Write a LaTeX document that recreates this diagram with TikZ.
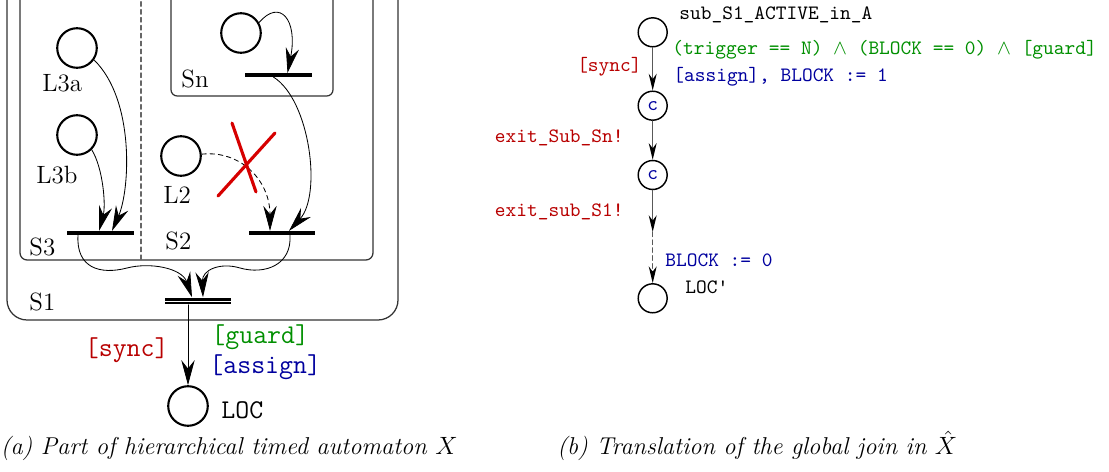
\documentclass[tikz,border=0pt]{standalone}
\usetikzlibrary{arrows.meta,calc}
\definecolor{syncred}{rgb}{0.72,0,0}
\definecolor{guardgreen}{rgb}{0,0.56,0}
\definecolor{assignblue}{rgb}{0,0,0.62}
\definecolor{crossred}{rgb}{0.84,0,0}
\begin{document}
\begin{tikzpicture}[x=0.48pt, y=-0.48pt, line join=round, line cap=round,
    >={Stealth[length=12pt,width=6.4pt,inset=4pt]},
    loc/.style={circle, draw, line width=1pt, minimum size=19pt, inner sep=0pt},
    bar/.style={rectangle, fill=black, minimum width=32pt, minimum height=1.6pt, inner sep=0pt},
    joinbar/.style={rectangle, fill=black, minimum width=32pt, minimum height=3.2pt, inner sep=0pt},
    lbl/.style={anchor=west, inner sep=0pt, font=\fontsize{12}{14}\selectfont},
    ttl/.style={inner sep=0pt, font=\fontsize{13}{15}\selectfont\ttfamily},
    box/.style={draw=black!80, line width=0.6pt},
    sloc/.style={circle, draw, line width=0.7pt, minimum size=13.9pt, inner sep=0pt, text=assignblue, font=\fontsize{9.8}{11}\selectfont\ttfamily},
    stt/.style={inner sep=0pt, font=\fontsize{9.8}{11}\selectfont\ttfamily},
    sarr/.style={draw=black!65, line width=0.6pt, -{Stealth[length=8pt,width=3.8pt,inset=2.5pt,black]}},
    captext/.style={inner sep=0pt, font=\fontsize{11.7}{13}\selectfont\itshape}]
  \useasboundingbox (0,0) rectangle (1109,472);

  % (a) super-states
  \draw[box, rounded corners=9.6pt] (7,-30) -- (7,320) -- (398,320) -- (398,-30);
  \draw[box, rounded corners=3.4pt] (20,-30) -- (20,260) -- (373,260) -- (373,-30);
  \draw[box, rounded corners=3pt] (171,-30) -- (171,96) -- (333,96) -- (333,-30);
  \draw[black!60, line width=0.6pt, dash pattern=on 2.2pt off 1.6pt] (141,-30) -- (141,260);

  % locations and labels
  \foreach \n/\x/\y in {l3a/77/48, l3b/77/135, snloc/241/33, l2/181/156, loc/188/406}{
    \node[loc] (\n) at (\x,\y) {};
  }
  \foreach \t/\x/\y in {L3a/42/83, L3b/36/175, L2/163/195, Sn/181/79, S3/29/247, S2/165/241, S1/29/302}{
    \node[lbl] (lab\t) at (\x,\y) {\t};
  }

  % exit bars
  \node[bar] (bs3) at (100.5,233) {};
  \node[bar] (bs2) at (282,233) {};
  \node[bar] (bsn) at (278.5,75) {};
  \node[joinbar] (join) at (198,301) {};
  \draw[white, line width=0.45pt, line cap=butt] (join.west) -- (join.east);

  \draw[->] (l3a.-35) .. controls (135,100) and (130,190) .. ($(bs3.north)+(11.5,0)$);
  \draw[->] (l3b.-45) .. controls (103,168) and (106,205) .. ($(bs3.north)+(-1.5,0)$);
  \draw[->] (snloc.30) .. controls (280,-2) and (298,20) .. ($(bsn.north)+(9,0)$);
  \draw[->] ($(bsn.south)+(-5,0)$) .. controls (310,100) and (322,195) .. ($(bs2.north)+(7,0)$);
  \draw[->, dash pattern=on 2.2pt off 1.8pt] (l2.5) .. controls (240,150) and (270,180) .. ($(bs2.north)+(-12,0)$);
  \draw[crossred, line width=1.5pt] (232,123) -- (256,192) (275,133) -- (218,196);

  \draw[->] ($(bs3.south)+(-22.5,0)$) .. controls (76,268) and (100,275) .. (127,268)
    .. controls (150,262) and (182,268) .. ($(join.north)+(-6,0)$);
  \draw[->] ($(bs2.south)+(8,0)$) .. controls (292,265) and (265,275) .. (240,268)
    .. controls (220,262) and (202,270) .. ($(join.north)+(5,0)$);
  \draw[->] (loc |- join.south) -- (loc);

  \node[ttl, text=syncred, anchor=east] (sync) at (169,350) {[sync]};
  \node[ttl, text=guardgreen, anchor=west] (guard) at (211,337) {[guard]};
  \node[ttl, text=assignblue, anchor=west] (assign) at (209,367) {[assign]};
  \node[ttl, anchor=west] (loclbl) at (221,410) {LOC};

  % (b) translation
  \node[sloc] (act) at (652.7,32.3) {};
  \node[sloc] (c1) at (652.7,105.7) {c};
  \node[sloc] (c2) at (652.7,175) {c};
  \node[sloc] (locp) at (652.7,298.3) {};
  \coordinate (blk) at (652.7,232);
  \draw[sarr] (act) -- (c1);
  \draw[sarr] (c1) -- (c2);
  \draw[sarr] (c2) -- (blk);
  \draw[sarr, dash pattern=on 2.2pt off 1.6pt] (blk) -- (locp);

  \node[stt, anchor=west] (actlbl) at (679,15) {sub\_S1\_ACTIVE\_in\_A};
  \node[stt, text=guardgreen, anchor=west] (grd) at (672,50) {(trigger == N) $\wedge$ (BLOCK == 0) $\wedge$ [guard]};
  \node[stt, text=assignblue, anchor=west] (asg) at (673,77) {[assign], BLOCK := 1};
  \node[stt, text=syncred, anchor=east] (syn) at (642,67) {[sync]};
  \node[stt, text=syncred, anchor=east] (exsn) at (624,138) {exit\_Sub\_Sn!};
  \node[stt, text=syncred, anchor=east] (exs1) at (624,212) {exit\_sub\_S1!};
  \node[stt, text=assignblue, anchor=west] (blk0) at (665,260) {BLOCK := 0};
  \node[stt, anchor=west] (locplbl) at (685,287) {LOC'};

  \node[captext, anchor=base east] (capa) at (458,455) {(a) Part of hierarchical timed automaton $X$};
  \node[captext, anchor=base west] (capb) at (557,455) {(b) Translation of the global join in $\hat{X}$};
\end{tikzpicture}
\end{document}
